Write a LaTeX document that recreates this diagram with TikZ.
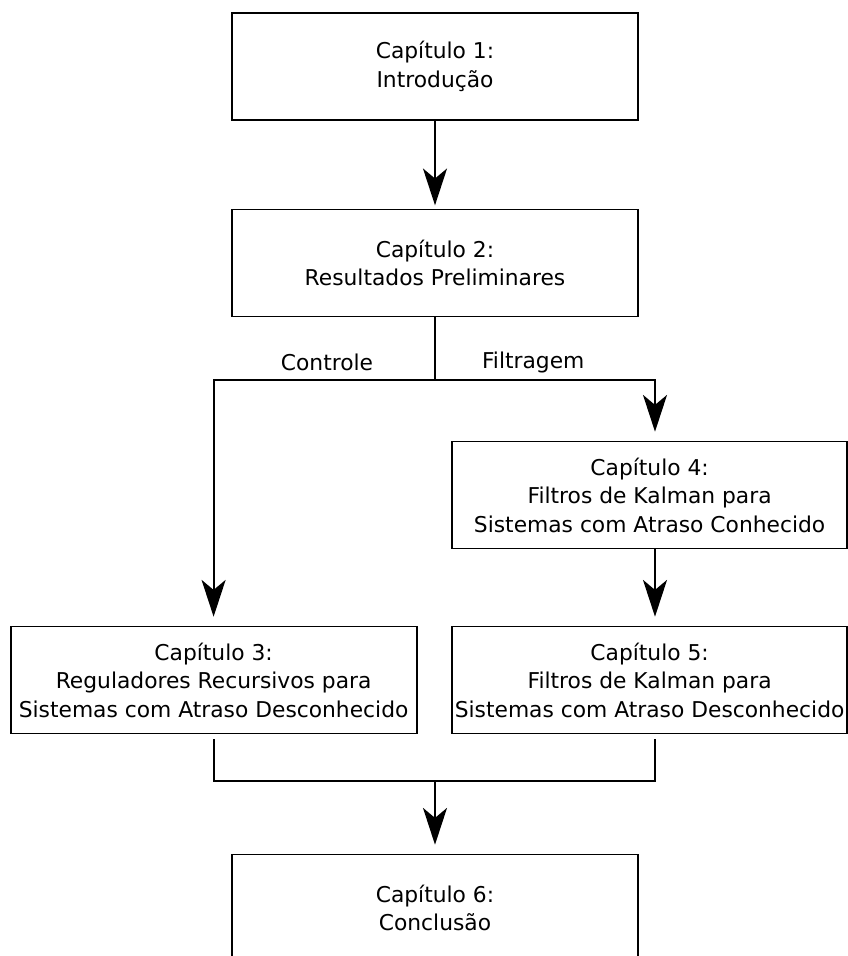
\documentclass[tikz,border=0pt]{standalone}
\usepackage{fontspec}
\setmainfont{DejaVu Sans}
\usetikzlibrary{arrows.meta}

\tikzset{
  chapbox/.style={draw, line width=1.4pt, align=center, inner sep=0pt,
    font=\fontsize{15.5}{20.3}\selectfont},
  widebox/.style={chapbox, minimum width=10.15cm, minimum height=2.675cm},
  sidebox/.style={chapbox, minimum width=9.875cm, minimum height=2.675cm},
  branch/.style={font=\fontsize{15.5}{20.3}\selectfont},
  link/.style={line width=1.4pt},
  flow/.style={link, -{Stealth[length=0.92cm,width=0.6cm,inset=0.25cm]}, shorten >=0.22cm}
}

\begin{document}
\begin{tikzpicture}
        \useasboundingbox (0,0) rectangle (21.2,-23.9);

        % Chapter boxes
        \node[widebox] (cap1) at (10.875,-1.66) {Capítulo 1:\\Introdução};
        \node[widebox] (cap2) at (10.875,-6.575) {Capítulo 2:\\Resultados Preliminares};
        \node[sidebox] (cap4) at (16.24,-12.375) {Capítulo 4:\\Filtros de Kalman para\\Sistemas com Atraso Conhecido};
        \node[widebox] (cap3) at (5.34,-17.0) {Capítulo 3:\\Reguladores Recursivos para\\Sistemas com Atraso Desconhecido};
        \node[sidebox] (cap5) at (16.24,-17.0) {Capítulo 5:\\Filtros de Kalman para\\Sistemas com Atraso Desconhecido};
        \node[widebox] (cap6) at (10.875,-22.7) {Capítulo 6:\\Conclusão};

        % Branch points
        \coordinate (split) at (10.875,-9.5);
        \coordinate (filt) at (16.375,-9.5);
        \coordinate (join) at (10.875,-19.525);

        % Branch labels
        \node[branch] (ctrltxt) at (8.175,-9.05) {Controle};
        \node[branch] (filttxt) at (13.33,-9.05) {Filtragem};

        % Connectors
        \draw[flow, shorten >=0.08cm] (cap1) -- (cap2);
        \draw[link] (cap2.south) -- (split);
        \draw[flow] (split) -| (cap3.north);
        \draw[flow] (split) -- (filt) -- (filt |- cap4.north);
        \draw[flow] (filt |- cap4.south) -- (filt |- cap5.north);
        \draw[link] ([yshift=-0.125cm]cap3.south) |- (join) -| ([yshift=-0.125cm]cap5.south -| filt);
        \draw[flow] (join) -- (cap6.north);

\end{tikzpicture}
\end{document}
